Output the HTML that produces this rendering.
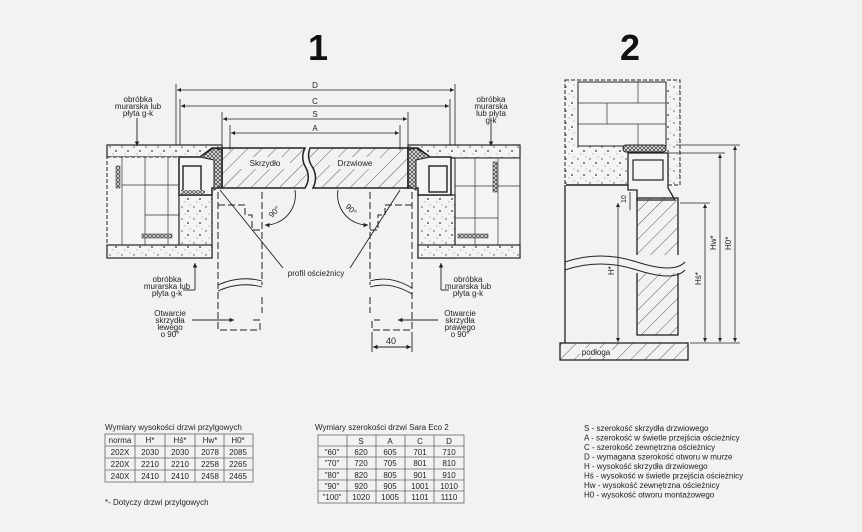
<!DOCTYPE html>
<html><head><meta charset="utf-8"><style>
html,body{margin:0;padding:0;background:#f2f2f2;}
svg{display:block;font-family:"Liberation Sans",sans-serif;}
.t{font-size:8px;fill:#222;}
</style></head><body>
<svg width="862" height="532" viewBox="0 0 862 532" xmlns="http://www.w3.org/2000/svg">
<defs>
<pattern id="h" width="10" height="10" patternUnits="userSpaceOnUse" patternTransform="rotate(45)"><line x1="0" y1="0" x2="0" y2="10" stroke="#333" stroke-width="0.8"/></pattern>
<pattern id="c" width="12" height="12" patternUnits="userSpaceOnUse"><rect width="12" height="12" fill="#f4f4f4"/><circle cx="2" cy="3" r="0.7" fill="#444"/><circle cx="8" cy="7" r="0.9" fill="#333"/><circle cx="5" cy="10" r="0.5" fill="#666"/><circle cx="10" cy="1" r="0.5" fill="#666"/></pattern>
<pattern id="x" width="4" height="4" patternUnits="userSpaceOnUse"><rect width="4" height="4" fill="#ddd"/><path d="M0 0L4 4M4 0L0 4" stroke="#222" stroke-width="0.6"/></pattern>
<marker id="a" markerWidth="6" markerHeight="6" refX="5" refY="3" orient="auto-start-reverse"><path d="M0 0.5L5 3L0 5.5z" fill="#222"/></marker>
</defs>
<rect width="862" height="532" fill="#f2f2f2"/>
<text x="318" y="60" font-size="36" font-weight="bold" text-anchor="middle" fill="#111">1</text>
<text x="630" y="60" font-size="36" font-weight="bold" text-anchor="middle" fill="#111">2</text>

<g stroke="#222" fill="none" stroke-width="0.8">
<line x1="176" y1="84" x2="176" y2="255"/><line x1="455" y1="84" x2="455" y2="255"/>
<line x1="180" y1="99" x2="180" y2="160"/><line x1="450" y1="99" x2="450" y2="160"/>
<line x1="222" y1="112" x2="222" y2="150"/><line x1="408" y1="112" x2="408" y2="150"/>
<line x1="230" y1="125" x2="230" y2="150"/><line x1="400" y1="125" x2="400" y2="150"/>
<line x1="177" y1="90" x2="454" y2="90" marker-start="url(#a)" marker-end="url(#a)"/>
<line x1="181" y1="106" x2="449" y2="106" marker-start="url(#a)" marker-end="url(#a)"/>
<line x1="223" y1="119" x2="407" y2="119" marker-start="url(#a)" marker-end="url(#a)"/>
<line x1="231" y1="133" x2="399" y2="133" marker-start="url(#a)" marker-end="url(#a)"/>
</g>
<g class="t" text-anchor="middle" font-size="10"><text x="315" y="88">D</text><text x="315" y="104">C</text><text x="315" y="117">S</text><text x="315" y="131">A</text></g>

<rect x="107" y="145" width="115" height="12" fill="url(#c)" stroke="#222" stroke-width="1.2"/>
<rect x="107" y="157" width="72" height="88" fill="#f4f4f4" stroke="#222" stroke-dasharray="4 2"/>
<g stroke="#333" stroke-width="0.7" fill="none">
<line x1="122" y1="157" x2="122" y2="245"/><line x1="145" y1="157" x2="145" y2="245"/><line x1="168" y1="157" x2="168" y2="245"/>
<line x1="122" y1="185" x2="179" y2="185"/><line x1="145" y1="215" x2="179" y2="215"/>
</g>
<rect x="116" y="166" width="4" height="22" fill="url(#x)" stroke="#222" stroke-width="0.5"/>
<rect x="142" y="234" width="30" height="4" fill="url(#x)" stroke="#222" stroke-width="0.5"/>
<rect x="179" y="195" width="33" height="63" fill="url(#c)" stroke="#222" stroke-width="1.2"/>
<rect x="107" y="245" width="105" height="13" fill="url(#c)" stroke="#222" stroke-width="1.2"/>
<path d="M179 157H200L212 148H222V188H212V195H179Z" fill="#f4f4f4" stroke="#222" stroke-width="1.5"/>
<path d="M200 157L214 148L222 150V185L214 190V160Z" fill="url(#x)" stroke="#222"/>
<rect x="183" y="166" width="18" height="26" fill="none" stroke="#222" stroke-width="1.4"/>
<rect x="181" y="190" width="24" height="4" fill="url(#x)"/>

<rect x="408" y="145" width="112" height="13" fill="url(#c)" stroke="#222" stroke-width="1.2"/>
<rect x="455" y="158" width="65" height="87" fill="#f4f4f4" stroke="#222"/>
<g stroke="#333" stroke-width="0.7">
<line x1="475" y1="158" x2="475" y2="245"/><line x1="498" y1="158" x2="498" y2="245"/>
<line x1="455" y1="186" x2="520" y2="186"/><line x1="455" y1="218" x2="498" y2="218"/>
</g>
<rect x="493" y="162" width="4" height="30" fill="url(#x)" stroke="#222" stroke-width="0.5"/>
<rect x="458" y="234" width="30" height="4" fill="url(#x)" stroke="#222" stroke-width="0.5"/>
<rect x="418" y="195" width="37" height="63" fill="url(#c)" stroke="#222" stroke-width="1.2"/>
<rect x="418" y="245" width="102" height="13" fill="url(#c)" stroke="#222" stroke-width="1.2"/>
<path d="M451 157H430L418 148H408V188H418V195H451Z" fill="#f4f4f4" stroke="#222" stroke-width="1.5"/>
<path d="M430 157L416 148L408 150V185L416 190V160Z" fill="url(#x)" stroke="#222"/>
<rect x="429" y="166" width="18" height="26" fill="none" stroke="#222" stroke-width="1.4"/>

<path d="M222 148H305Q300 158 306 168Q311 178 305 188H222Z" fill="url(#h)" stroke="#222" stroke-width="1.5"/>
<path d="M310 148H408V188H313Q318 178 313 168Q306 158 310 148Z" fill="url(#h)" stroke="#222" stroke-width="1.5"/>
<rect x="240" y="157" width="50" height="12" fill="#f2f2f2"/><text x="265" y="166" class="t" text-anchor="middle" font-size="7">Skrzydło</text>
<rect x="330" y="157" width="50" height="12" fill="#f2f2f2"/><text x="355" y="166" class="t" text-anchor="middle" font-size="7">Drzwiowe</text>

<g stroke="#222" fill="none" stroke-width="1" stroke-dasharray="7 3">
<path d="M218 192V330H260V320H252"/><path d="M262 192V285"/><path d="M262 297V313"/>
<path d="M412 192V330H372V320H380"/><path d="M370 192V285"/><path d="M370 297V313"/>
<path d="M218 205H245V215H252V230H262"/>
<path d="M412 205H385V215H378V230H370"/>
</g>
<g stroke="#222" fill="none" stroke-width="0.9">
<path d="M218 285Q240 275 262 281"/><path d="M218 291Q240 281 262 287"/>
<path d="M370 281Q390 275 412 288"/><path d="M370 287Q390 281 412 294"/>
<path d="M295 190A30 30 0 0 1 265 225" marker-end="url(#a)"/>
<path d="M338 190A30 30 0 0 0 368 225" marker-end="url(#a)"/>
<line x1="220" y1="190" x2="283" y2="268"/><line x1="400" y1="190" x2="350" y2="268"/>
<line x1="195" y1="263" x2="195" y2="290" marker-start="url(#a)"/><line x1="195" y1="290" x2="183" y2="290"/>
<line x1="441" y1="263" x2="441" y2="290" marker-start="url(#a)"/><line x1="441" y1="290" x2="449" y2="290"/>
<line x1="137" y1="118" x2="137" y2="146" marker-end="url(#a)"/>
<line x1="491" y1="118" x2="491" y2="146" marker-end="url(#a)"/>
<line x1="192" y1="320" x2="234" y2="320" marker-end="url(#a)"/>
<line x1="438" y1="320" x2="398" y2="320" marker-end="url(#a)"/>
<line x1="372" y1="332" x2="372" y2="352"/><line x1="412" y1="332" x2="412" y2="352"/>
<line x1="373" y1="347" x2="411" y2="347" marker-start="url(#a)" marker-end="url(#a)"/>
</g>
<text x="272" y="218" class="t" font-size="7" transform="rotate(-45 272 218)">90°</text>
<text x="345" y="207" class="t" font-size="7" transform="rotate(45 345 207)">90°</text>
<g class="t" text-anchor="middle" font-size="7.5">
<text x="138" y="102">obróbka</text><text x="138" y="109">murarska lub</text><text x="138" y="116">płyta g-k</text>
<text x="491" y="102">obróbka</text><text x="491" y="109">murarska</text><text x="491" y="116">lub płyta</text><text x="491" y="123">g-k</text>
<text x="167" y="282">obróbka</text><text x="167" y="289">murarska lub</text><text x="167" y="296">płyta g-k</text>
<text x="468" y="282">obróbka</text><text x="468" y="289">murarska lub</text><text x="468" y="296">płyta g-k</text>
<text x="316" y="276">profil ościeżnicy</text>
<text x="170" y="316">Otwarcie</text><text x="170" y="323">skrzydła</text><text x="170" y="330">lewego</text><text x="170" y="337">o 90°</text>
<text x="460" y="316">Otwarcie</text><text x="460" y="323">skrzydła</text><text x="460" y="330">prawego</text><text x="460" y="337">o 90°</text>
<text x="391" y="344" font-size="9">40</text>
</g>

<rect x="565" y="80" width="115" height="105" fill="url(#c)" stroke="#222" stroke-dasharray="4 2"/>
<rect x="578" y="82" width="88" height="64" fill="#f4f4f4" stroke="#222"/>
<g stroke="#333" stroke-width="0.7"><line x1="578" y1="103" x2="666" y2="103"/><line x1="578" y1="124" x2="666" y2="124"/><line x1="638" y1="82" x2="638" y2="103"/><line x1="607" y1="103" x2="607" y2="124"/><line x1="638" y1="124" x2="638" y2="146"/></g>
<line x1="566" y1="185" x2="637" y2="185" stroke="#222" stroke-width="1.4"/>
<line x1="565" y1="185" x2="565" y2="343" stroke="#222" stroke-width="1.3"/>
<rect x="623" y="145" width="43" height="7" rx="3" fill="url(#x)" stroke="#222"/>
<path d="M628 153H668V188L675 200H637V190H628Z" fill="#f4f4f4" stroke="#222" stroke-width="1.3"/>
<rect x="633" y="160" width="30" height="20" fill="none" stroke="#222" stroke-width="1.2"/>
<rect x="637" y="198" width="41" height="137" fill="url(#h)" stroke="#222" stroke-width="1.3"/>
<rect x="620" y="255" width="65" height="18" fill="#f2f2f2"/>
<path d="M565 262Q600 250 637 262T685 262" stroke="#222" fill="none"/>
<path d="M565 270Q600 258 637 270T685 270" stroke="#222" fill="none"/>
<rect x="560" y="343" width="128" height="17" fill="url(#h)" stroke="#222" stroke-width="1.3"/>
<rect x="580" y="348" width="32" height="9" fill="#f2f2f2"/><text x="596" y="355" class="t" font-size="6.5" text-anchor="middle">podłoga</text>
<g stroke="#222" stroke-width="0.8" fill="none">
<line x1="618" y1="203" x2="618" y2="342" marker-start="url(#a)" marker-end="url(#a)"/>
<line x1="705" y1="204" x2="705" y2="342" marker-start="url(#a)" marker-end="url(#a)"/>
<line x1="720" y1="154" x2="720" y2="342" marker-start="url(#a)" marker-end="url(#a)"/>
<line x1="735" y1="146" x2="735" y2="342" marker-start="url(#a)" marker-end="url(#a)"/>
<line x1="676" y1="145" x2="740" y2="145"/><line x1="666" y1="153" x2="725" y2="153"/>
<line x1="680" y1="203" x2="710" y2="203"/><line x1="690" y1="343" x2="740" y2="343"/>
<line x1="630" y1="192" x2="630" y2="210"/>
</g>
<g class="t" font-size="8"><text x="614" y="275" transform="rotate(-90 614 275)">H*</text><text x="701" y="285" transform="rotate(-90 701 285)">Hś*</text><text x="716" y="250" transform="rotate(-90 716 250)">Hw*</text><text x="731" y="250" transform="rotate(-90 731 250)">H0*</text><text x="626" y="203" font-size="7" transform="rotate(-90 626 203)">10</text></g>

<text x="105" y="430" class="t" font-size="9.5">Wymiary wysokości drzwi przylgowych</text>
<g stroke="#666" stroke-width="0.8" fill="none">
<rect x="105" y="434" width="148" height="48"/>
<line x1="105" y1="446" x2="253" y2="446"/><line x1="105" y1="458" x2="253" y2="458"/><line x1="105" y1="470" x2="253" y2="470"/>
<line x1="135" y1="434" x2="135" y2="482"/><line x1="165" y1="434" x2="165" y2="482"/><line x1="195" y1="434" x2="195" y2="482"/><line x1="224" y1="434" x2="224" y2="482"/>
</g>
<g class="t" font-size="7.5" text-anchor="middle">
<text x="120" y="443">norma</text><text x="150" y="443">H*</text><text x="180" y="443">Hś*</text><text x="210" y="443">Hw*</text><text x="238" y="443">H0*</text>
<text x="120" y="455">202X</text><text x="150" y="455">2030</text><text x="180" y="455">2030</text><text x="210" y="455">2078</text><text x="238" y="455">2085</text>
<text x="120" y="467">220X</text><text x="150" y="467">2210</text><text x="180" y="467">2210</text><text x="210" y="467">2258</text><text x="238" y="467">2265</text>
<text x="120" y="479">240X</text><text x="150" y="479">2410</text><text x="180" y="479">2410</text><text x="210" y="479">2458</text><text x="238" y="479">2465</text>
</g>
<text x="105" y="505" class="t" font-size="7.5">*- Dotyczy drzwi przylgowych</text>

<text x="315" y="430" class="t" font-size="9.5">Wymiary szerokości drzwi Sara Eco 2</text>
<g stroke="#666" stroke-width="0.8" fill="none">
<rect x="318" y="435" width="146" height="68"/>
<line x1="318" y1="446" x2="464" y2="446"/><line x1="318" y1="457" x2="464" y2="457"/><line x1="318" y1="469" x2="464" y2="469"/><line x1="318" y1="480" x2="464" y2="480"/><line x1="318" y1="491" x2="464" y2="491"/>
<line x1="347" y1="435" x2="347" y2="503"/><line x1="376" y1="435" x2="376" y2="503"/><line x1="405" y1="435" x2="405" y2="503"/><line x1="434" y1="435" x2="434" y2="503"/>
</g>
<g class="t" font-size="7.5" text-anchor="middle">
<text x="361" y="444">S</text><text x="390" y="444">A</text><text x="420" y="444">C</text><text x="449" y="444">D</text>
<text x="332" y="455">"60"</text><text x="361" y="455">620</text><text x="390" y="455">605</text><text x="420" y="455">701</text><text x="449" y="455">710</text>
<text x="332" y="466">"70"</text><text x="361" y="466">720</text><text x="390" y="466">705</text><text x="420" y="466">801</text><text x="449" y="466">810</text>
<text x="332" y="478">"80"</text><text x="361" y="478">820</text><text x="390" y="478">805</text><text x="420" y="478">901</text><text x="449" y="478">910</text>
<text x="332" y="489">"90"</text><text x="361" y="489">920</text><text x="390" y="489">905</text><text x="420" y="489">1001</text><text x="449" y="489">1010</text>
<text x="332" y="500">"100"</text><text x="361" y="500">1020</text><text x="390" y="500">1005</text><text x="420" y="500">1101</text><text x="449" y="500">1110</text>
</g>

<g class="t" font-size="8">
<text x="584" y="431">S - szerokość skrzydła drzwiowego</text>
<text x="584" y="440.5">A - szerokość w świetle przejścia ościeżnicy</text>
<text x="584" y="450">C - szerokość zewnętrzna ościeżnicy</text>
<text x="584" y="459.5">D - wymagana szerokość otworu w murze</text>
<text x="584" y="469">H - wysokość skrzydła drzwiowego</text>
<text x="584" y="478.5">Hś - wysokość w świetle przejścia ościeżnicy</text>
<text x="584" y="488">Hw - wysokość zewnętrzna ościeżnicy</text>
<text x="584" y="497.5">H0 - wysokość otworu montażowego</text>
</g>
</svg>
</body></html>
